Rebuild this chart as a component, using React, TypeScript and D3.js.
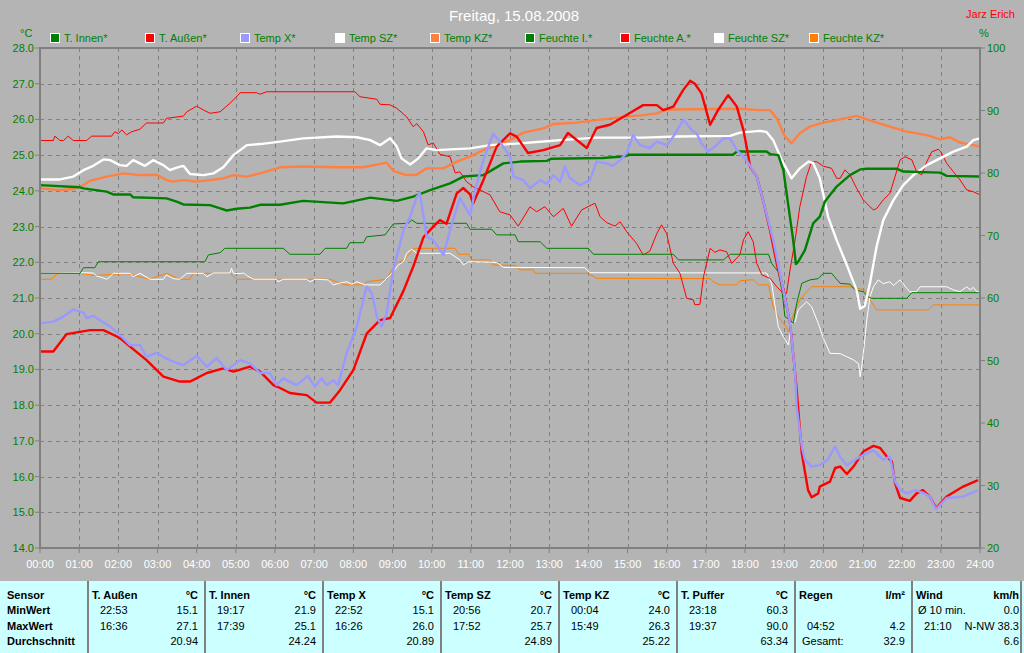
import React from 'react';
import * as d3 from 'd3';

type P = [number, number];

// ---------- chart texts ----------
const title = 'Freitag, 15.08.2008';
const author = 'Jarz Erich';
const hourTicks = d3.range(0, 25);
const tempTicks = d3.range(14, 29);
const humTicks = [20, 30, 40, 50, 60, 70, 80, 90, 100];

const legendLabels = ['T. Innen*', 'T. Außen*', 'Temp X*', 'Temp SZ*', 'Temp KZ*', 'Feuchte I.*', 'Feuchte A.*', 'Feuchte SZ*', 'Feuchte KZ*'];
const legendColors = ['#008000', '#ff0000', '#9999ff', '#ffffff', '#ff8040', '#008000', '#ff0000', '#ffffff', '#ff8000'];

// ---------- temperatures (°C, hour of day) ----------
const tAussen: P[] = [[0,19.5],[0.34,19.5],[0.68,19.99],[1.28,20.1],[1.62,20.1],[2.04,19.88],[2.30,19.64],[2.72,19.26],[3.15,18.8],[3.57,18.66],[3.83,18.66],[4.26,18.9],[4.68,19.03],[4.94,18.94],[5.36,19.08],[5.62,18.94],[5.96,18.56],[6.13,18.48],[6.38,18.34],[6.81,18.28],[7.06,18.07],[7.40,18.07],[7.66,18.42],[8.00,18.98],[8.34,20.0],[8.68,20.38],[8.94,20.44],[9.28,21.2],[9.53,21.88],[9.79,22.7],[10.04,23.0],[10.21,23.18],[10.38,23.08],[10.64,23.93],[10.81,24.08],[10.98,23.9],[11.06,23.65],[11.32,24.3],[11.66,25.24],[12.0,25.61],[12.17,25.52],[12.46,25.06],[12.85,25.14],[13.28,25.28],[13.48,25.62],[13.96,25.2],[14.21,25.76],[14.55,25.85],[15.06,26.18],[15.40,26.4],[15.75,26.4],[15.91,26.26],[16.17,26.36],[16.42,26.82],[16.6,27.08],[16.72,27.0],[16.89,26.73],[17.11,25.85],[17.31,26.26],[17.57,26.68],[17.79,26.36],[17.96,25.7],[18.04,25.24],[18.13,24.68],[18.30,24.4],[18.46,23.74],[18.64,22.9],[18.81,21.97],[18.98,21.22],[19.15,20.3],[19.28,18.9],[19.32,18.42],[19.45,16.65],[19.61,15.62],[19.70,15.42],[19.87,15.53],[19.91,15.72],[20.17,15.86],[20.30,16.24],[20.43,16.28],[20.60,16.07],[20.77,16.28],[21.02,16.7],[21.28,16.86],[21.45,16.8],[21.62,16.56],[21.75,16.42],[21.83,15.82],[21.96,15.4],[22.21,15.32],[22.38,15.53],[22.54,15.62],[22.72,15.44],[22.88,15.12],[23.15,15.44],[23.57,15.72],[23.95,15.9]];

const tempX: P[] = [[0,20.29],[0.34,20.34],[0.6,20.48],[0.85,20.68],[1.11,20.59],[1.19,20.44],[1.36,20.5],[1.53,20.38],[1.79,20.2],[2.04,19.96],[2.30,19.68],[2.55,19.68],[2.72,19.36],[2.98,19.46],[3.23,19.3],[3.49,19.18],[3.66,19.12],[4.0,19.38],[4.26,19.07],[4.51,19.32],[4.77,18.98],[5.11,19.26],[5.36,19.17],[5.62,18.9],[5.87,18.9],[6.04,18.56],[6.21,18.75],[6.55,18.56],[6.84,18.82],[7.02,18.52],[7.19,18.75],[7.32,18.56],[7.49,18.7],[7.61,18.56],[7.83,19.46],[8.09,20.2],[8.34,21.32],[8.47,21.14],[8.60,20.48],[8.72,20.2],[8.85,20.57],[9.02,21.78],[9.28,22.9],[9.45,23.28],[9.62,23.84],[9.70,23.93],[9.87,22.72],[10.04,22.62],[10.30,22.2],[10.47,22.9],[10.72,23.8],[10.98,23.32],[11.11,24.02],[11.32,24.86],[11.57,25.6],[11.74,25.38],[12.0,24.96],[12.09,24.4],[12.34,24.3],[12.51,24.07],[12.77,24.3],[12.94,24.2],[13.11,24.44],[13.28,24.25],[13.40,24.68],[13.53,24.36],[13.79,24.16],[14.04,24.3],[14.21,24.82],[14.47,24.77],[14.63,24.7],[14.81,24.86],[14.98,25.06],[15.14,25.56],[15.32,25.28],[15.57,25.2],[15.75,25.38],[16.0,25.28],[16.17,25.52],[16.43,26.0],[16.64,25.7],[16.77,25.6],[16.89,25.33],[17.06,25.1],[17.23,25.24],[17.45,25.47],[17.62,25.47],[17.79,25.14],[18.04,24.86],[18.30,24.4],[18.46,23.74],[18.72,22.62],[18.98,21.2],[19.15,20.3],[19.28,18.9],[19.32,17.96],[19.45,16.84],[19.53,16.47],[19.70,16.28],[19.91,16.32],[20.11,16.47],[20.30,16.84],[20.43,16.55],[20.60,16.32],[20.81,16.47],[21.02,16.6],[21.28,16.74],[21.53,16.47],[21.70,16.56],[21.83,15.86],[21.96,15.62],[22.13,15.53],[22.34,15.62],[22.54,15.55],[22.72,15.44],[22.87,15.1],[22.93,15.15],[23.15,15.4],[23.57,15.44],[23.95,15.62]];

const tInnen: P[] = [[0,24.16],[1.02,24.1],[1.11,24.07],[1.70,23.98],[1.87,23.9],[2.30,23.9],[2.38,23.82],[3.23,23.79],[3.49,23.7],[3.66,23.62],[4.34,23.6],[4.60,23.51],[4.77,23.45],[5.02,23.5],[5.36,23.53],[5.62,23.61],[6.13,23.61],[6.72,23.72],[7.74,23.65],[8.43,23.81],[9.11,23.72],[9.53,23.84],[9.96,24.02],[10.47,24.21],[10.81,24.4],[11.32,24.44],[11.83,24.77],[12.26,24.82],[12.94,24.84],[13.06,24.9],[14.37,24.92],[14.88,24.96],[15.06,25.01],[17.69,25.01],[17.79,25.1],[18.55,25.1],[18.64,25.03],[18.85,25.0],[18.98,24.58],[19.11,23.56],[19.23,22.62],[19.3,21.95],[19.36,22.02],[19.53,22.34],[19.74,23.09],[19.91,23.28],[20.04,23.7],[20.34,24.12],[20.68,24.44],[20.94,24.6],[21.11,24.62],[21.87,24.62],[22.04,24.54],[22.98,24.51],[23.15,24.42],[24,24.4]];

const tempSZ: P[] = [[0,24.32],[0.51,24.32],[0.85,24.4],[1.11,24.58],[1.36,24.7],[1.62,24.88],[1.79,24.86],[2.04,24.72],[2.21,24.7],[2.38,24.86],[2.55,24.77],[2.68,24.7],[2.89,24.86],[3.15,24.72],[3.32,24.58],[3.49,24.65],[3.66,24.7],[3.83,24.47],[4.17,24.44],[4.43,24.49],[4.68,24.66],[4.94,25.0],[5.28,25.28],[5.62,25.31],[6.13,25.38],[6.72,25.47],[7.57,25.52],[8.09,25.5],[8.43,25.42],[8.68,25.28],[8.94,25.47],[9.11,25.24],[9.23,24.91],[9.45,24.74],[9.66,24.91],[9.87,25.19],[10.13,25.14],[10.98,25.19],[11.49,25.28],[12.26,25.33],[12.85,25.38],[13.28,25.42],[14.21,25.49],[15.40,25.49],[16.26,25.52],[17.62,25.54],[17.87,25.63],[18.38,25.68],[18.55,25.65],[18.72,25.42],[18.94,24.86],[19.19,24.35],[19.40,24.63],[19.62,24.82],[19.74,24.78],[19.91,24.35],[20.12,23.28],[20.34,22.62],[20.60,21.92],[20.85,21.22],[20.94,20.7],[21.06,20.78],[21.19,21.41],[21.36,22.44],[21.53,23.18],[21.79,23.74],[22.04,24.16],[22.30,24.44],[22.64,24.72],[22.98,24.91],[23.32,25.1],[23.66,25.24],[23.83,25.42],[24,25.47]];

const tempKZ: P[] = [[0,24.07],[0.51,24.02],[0.85,24.05],[1.11,24.16],[1.28,24.28],[1.70,24.4],[2.13,24.49],[2.55,24.44],[2.98,24.45],[3.23,24.3],[3.40,24.26],[3.66,24.3],[4.0,24.26],[4.34,24.3],[4.68,24.35],[4.94,24.44],[5.28,24.4],[5.62,24.49],[5.96,24.6],[6.13,24.66],[6.72,24.68],[7.57,24.66],[8.26,24.66],[8.85,24.79],[9.02,24.56],[9.36,24.44],[9.62,24.45],[9.87,24.63],[10.30,24.63],[10.64,24.82],[10.98,24.96],[11.32,25.14],[11.66,25.28],[12.0,25.42],[12.34,25.63],[12.85,25.75],[13.11,25.87],[13.70,25.91],[14.21,25.98],[14.98,26.08],[15.40,26.12],[15.75,26.17],[16.0,26.28],[17.87,26.3],[18.38,26.26],[18.64,26.26],[18.81,26.03],[19.02,25.52],[19.19,25.33],[19.40,25.61],[19.66,25.8],[20.0,25.91],[20.43,26.0],[20.85,26.1],[21.28,25.94],[21.70,25.8],[22.13,25.66],[22.64,25.56],[22.98,25.44],[23.23,25.5],[23.49,25.35],[23.83,25.28],[24,25.24]];

// ---------- humidities (%, hour of day) ----------
const fAussen: P[] = [[0,85.2],[0.34,85.2],[0.38,85.9],[0.51,85.2],[0.6,85.2],[0.72,85.9],[0.85,85.2],[1.19,85.2],[1.32,85.9],[1.83,85.9],[1.91,86.6],[2.0,86.3],[2.09,86.9],[2.21,86.1],[2.34,86.6],[2.55,87.0],[2.72,88.0],[3.15,88.0],[3.23,88.75],[3.66,89.1],[3.75,89.8],[4.0,90.7],[4.17,90.1],[4.34,89.55],[4.6,89.8],[4.85,91.15],[5.02,92.2],[5.11,92.85],[5.53,92.85],[5.62,92.6],[5.79,93.0],[8.04,93.0],[8.17,92.2],[8.60,91.8],[8.68,91.0],[8.94,90.9],[9.11,90.35],[9.36,89.0],[9.53,87.4],[9.62,87.9],[9.79,86.6],[9.91,84.5],[10.04,84.8],[10.21,83.0],[10.47,82.6],[10.60,80.0],[10.72,80.2],[10.89,78.6],[11.06,77.8],[11.23,77.3],[11.49,76.5],[11.74,73.8],[12.0,73.3],[12.21,71.5],[12.51,74.6],[12.68,73.8],[12.89,74.6],[13.11,73.0],[13.36,74.35],[13.57,71.5],[13.83,74.1],[14.08,74.9],[14.17,75.15],[14.30,73.0],[14.47,72.05],[14.68,71.5],[14.81,72.2],[14.98,70.6],[15.23,68.75],[15.40,66.9],[15.57,67.5],[15.75,70.35],[15.87,71.7],[16.0,70.3],[16.17,65.55],[16.34,63.95],[16.51,59.95],[16.68,59.7],[16.72,58.9],[16.85,59.0],[16.94,63.4],[17.11,67.95],[17.23,67.3],[17.36,67.7],[17.53,67.4],[17.66,65.55],[17.87,66.9],[17.96,69.3],[18.08,70.6],[18.21,69.0],[18.30,65.55],[18.43,63.7],[18.64,63.15],[18.81,61.8],[18.94,61.0],[19.06,60.75],[19.15,64.5],[19.28,69.3],[19.40,74.6],[19.57,79.4],[19.70,81.8],[19.83,81.8],[20.0,81.1],[20.21,80.75],[20.34,79.15],[20.43,79.15],[20.55,80.5],[20.68,79.7],[20.85,77.55],[21.02,75.7],[21.19,74.6],[21.28,74.1],[21.36,74.3],[21.53,75.7],[21.70,76.75],[21.83,79.4],[21.96,82.1],[22.09,82.6],[22.26,82.1],[22.38,80.2],[22.51,79.7],[22.64,81.8],[22.77,83.4],[22.94,83.8],[23.0,83.4],[23.15,81.55],[23.32,80.2],[23.49,78.9],[23.66,77.3],[23.83,77.0],[24,76.5]];

const fInnen: P[] = [[0,63.95],[1.02,63.95],[1.11,64.85],[1.40,64.85],[1.49,65.8],[4.21,65.8],[4.30,66.9],[4.60,67.25],[4.72,67.95],[6.21,67.95],[6.38,67.0],[7.15,67.0],[7.28,67.95],[7.83,67.95],[7.91,68.85],[8.26,68.85],[8.34,69.8],[8.81,70.1],[9.02,71.85],[9.40,71.95],[9.49,72.5],[9.62,71.95],[10.89,71.95],[10.98,71.0],[11.53,71.0],[11.66,70.1],[12.13,70.1],[12.21,69.0],[12.77,69.0],[12.94,67.95],[14.0,67.95],[14.13,67.0],[16.17,67.0],[16.30,66.1],[17.45,66.1],[17.62,67.0],[18.60,67.0],[18.68,65.55],[18.85,64.2],[18.94,61.3],[19.02,57.0],[19.15,56.5],[19.23,55.95],[19.32,59.15],[19.45,62.35],[19.66,62.9],[19.87,63.1],[20.0,63.95],[20.21,63.95],[20.43,62.35],[20.68,62.2],[20.81,61.3],[21.02,61.0],[21.15,60.2],[21.23,59.95],[22.13,59.95],[22.26,60.85],[24,60.85]];

const fSZ: P[] = [[0,63.95],[1.02,64.05],[1.36,64.0],[1.45,63.5],[1.53,63.4],[1.70,63.0],[1.79,63.4],[1.87,63.95],[2.30,63.95],[2.38,63.4],[2.55,63.95],[2.81,63.0],[3.15,63.0],[3.23,63.7],[3.40,63.1],[3.57,63.0],[3.75,63.95],[4.17,63.95],[4.26,63.4],[4.43,64.0],[4.85,64.0],[4.89,64.75],[4.94,63.95],[5.11,63.9],[5.20,64.0],[5.28,63.6],[5.45,63.0],[6.04,63.0],[6.08,62.6],[6.21,63.0],[6.81,63.0],[6.89,62.6],[7.02,63.0],[7.36,62.9],[7.49,62.1],[7.66,62.4],[7.83,62.6],[7.96,62.2],[8.09,62.6],[8.30,62.1],[8.68,62.1],[8.81,62.9],[9.02,64.2],[9.15,65.3],[9.28,65.8],[9.36,67.15],[9.49,67.8],[9.62,67.15],[9.79,67.15],[10.47,67.15],[10.72,66.1],[10.81,65.3],[10.94,65.8],[11.66,65.7],[11.83,64.9],[13.91,64.85],[14.04,64.05],[18.55,64.0],[18.68,62.35],[18.77,58.6],[18.85,55.4],[18.98,53.8],[19.11,52.5],[19.19,55.95],[19.28,56.2],[19.36,58.1],[19.57,59.4],[19.70,58.6],[19.87,55.95],[20.0,53.55],[20.17,51.15],[20.43,51.1],[20.60,50.6],[20.77,50.1],[20.90,49.5],[20.94,47.4],[20.98,49.0],[21.04,52.2],[21.11,56.5],[21.19,60.2],[21.28,61.8],[21.40,62.9],[21.53,62.3],[21.70,62.6],[21.79,62.0],[21.96,62.9],[22.13,61.55],[22.21,61.0],[22.38,61.0],[22.47,61.8],[23.15,61.8],[23.32,61.3],[23.49,61.0],[23.66,61.8],[23.75,61.3],[23.83,61.7],[23.92,61.0],[24,61.0]];

const fKZ: P[] = [[0,63.0],[0.30,63.0],[0.45,63.95],[1.02,63.95],[1.40,63.6],[2.21,63.9],[2.81,63.0],[3.23,63.95],[3.57,63.0],[3.83,63.0],[3.91,63.95],[4.85,63.95],[5.02,63.0],[7.40,63.0],[7.57,62.6],[7.79,62.1],[8.26,62.1],[8.34,62.6],[8.85,63.0],[8.98,64.5],[9.11,65.65],[9.28,66.1],[9.45,67.15],[9.53,67.95],[10.60,67.95],[10.68,67.0],[10.94,67.0],[11.02,66.1],[11.49,66.1],[11.57,65.3],[12.13,65.2],[12.26,64.5],[12.60,64.5],[12.64,63.95],[14.0,63.95],[14.21,63.15],[17.11,63.1],[17.19,62.6],[17.36,62.1],[17.79,62.1],[17.87,62.75],[18.13,62.9],[18.21,62.9],[18.34,62.1],[18.60,62.1],[18.64,60.75],[18.72,58.6],[18.85,57.0],[19.02,55.7],[19.11,54.6],[19.19,56.5],[19.28,58.1],[19.40,59.7],[19.57,61.0],[19.70,61.8],[20.68,61.8],[21.06,61.3],[21.19,59.7],[21.36,58.1],[22.68,58.1],[22.81,58.9],[24,58.9]];

// ---------- statistics table ----------
const rowLabels = ['Sensor', 'MinWert', 'MaxWert', 'Durchschnitt'];
const colNames = ['T. Außen', 'T. Innen', 'Temp X', 'Temp SZ', 'Temp KZ', 'T. Puffer', 'Regen', 'Wind'];
const colUnits = ['°C', '°C', '°C', '°C', '°C', '°C', 'l/m²', 'km/h'];
const minTimes = ['22:53', '19:17', '22:52', '20:56', '00:04', '23:18', '', 'Ø 10 min.'];
const minValues = ['15.1', '21.9', '15.1', '20.7', '24.0', '60.3', '', '0.0'];
const maxTimes = ['16:36', '17:39', '16:26', '17:52', '15:49', '19:37', '04:52', '21:10'];
const maxValues = ['27.1', '25.1', '26.0', '25.7', '26.3', '90.0', '4.2', 'N-NW 38.3'];
const avgLabels = ['', '', '', '', '', '', 'Gesamt:', ''];
const avgValues = ['20.94', '24.24', '20.89', '24.89', '25.22', '63.34', '32.9', '6.6'];
const colEdges = [88, 205, 323, 441, 559, 677, 795, 912, 1021];

const FONT = '"Liberation Sans", Arial, sans-serif';
const BG = '#b4b4b4';
const GRID = '#808080';
const GREEN = '#008000';

export default function App() {
  const x = d3.scaleLinear().domain([0, 24]).range([40, 980]);
  const yT = d3.scaleLinear().domain([14, 28]).range([548, 48]);
  const yH = d3.scaleLinear().domain([20, 100]).range([548, 48]);
  const lineT = d3.line<P>().x(d => x(d[0])).y(d => yT(d[1]));
  const lineH = d3.line<P>().x(d => x(d[0])).y(d => yH(d[1]));

  const thin: { d: P[]; c: string }[] = [
    { d: fKZ, c: '#ff8000' },
    { d: fSZ, c: '#ffffff' },
    { d: fAussen, c: '#ff0000' },
    { d: fInnen, c: '#008000' },
  ];
  const thick: { d: P[]; c: string }[] = [
    { d: tempKZ, c: '#ff8040' },
    { d: tempSZ, c: '#ffffff' },
    { d: tInnen, c: '#008000' },
    { d: tAussen, c: '#ff0000' },
    { d: tempX, c: '#9999ff' },
  ];
  const legendX = [50, 145, 240, 335, 430, 525, 620, 714, 809];
  const rowY = [599, 614, 630, 645];

  return (
    <svg width={1024} height={653} style={{ position: 'absolute', left: 0, top: 0, display: 'block' }} fontFamily={FONT}>
      <rect x={0} y={0} width={1024} height={653} fill={BG} />
      <text x={514} y={21} fill="#ffffff" fontSize={15} textAnchor="middle">{title}</text>
      <text x={1015} y={18} fill="#ff0000" fontSize={11} textAnchor="end">{author}</text>
      <text x={20} y={37} fill={GREEN} fontSize={11}>°C</text>
      <text x={979} y={37} fill={GREEN} fontSize={11}>%</text>

      {legendLabels.map((l, i) => (
        <g key={l}>
          <rect x={legendX[i] + 0.5} y={33.5} width={9} height={9} fill={legendColors[i]} stroke="#ffffff" strokeWidth={1} />
          <text x={legendX[i] + 14} y={42} fill={GREEN} fontSize={11}>{l}</text>
        </g>
      ))}

      {/* grid */}
      {tempTicks.slice(1, -1).map(t => (
        <line key={'h' + t} x1={40} x2={980} y1={Math.round(yT(t)) + 0.5} y2={Math.round(yT(t)) + 0.5} stroke={GRID} strokeDasharray="4,4" />
      ))}
      {hourTicks.slice(1, -1).map(h => (
        <line key={'v' + h} x1={Math.round(x(h)) + 0.5} x2={Math.round(x(h)) + 0.5} y1={48} y2={548} stroke={GRID} strokeDasharray="4,4" />
      ))}

      {/* lines */}
      {thin.map((s, i) => (
        <path key={'t' + i} d={lineH(s.d) || ''} fill="none" stroke={s.c} strokeWidth={1} />
      ))}
      {thick.map((s, i) => (
        <path key={'k' + i} d={lineT(s.d) || ''} fill="none" stroke={s.c} strokeWidth={2.4} strokeLinejoin="round" />
      ))}

      {/* frame */}
      <rect x={40} y={48} width={940} height={500} fill="none" stroke={GRID} strokeWidth={2} />

      {/* left axis */}
      {tempTicks.map(t => (
        <g key={'l' + t}>
          <line x1={35} x2={40} y1={yT(t)} y2={yT(t)} stroke={GRID} />
          <text x={34} y={yT(t) + 4} fill={GREEN} fontSize={11} textAnchor="end">{t.toFixed(1)}</text>
        </g>
      ))}
      {/* right axis */}
      {humTicks.map(h => (
        <g key={'r' + h}>
          <line x1={980} x2={985} y1={yH(h)} y2={yH(h)} stroke={GRID} />
          <text x={987} y={yH(h) + 4} fill={GREEN} fontSize={11}>{h}</text>
        </g>
      ))}
      {/* x axis */}
      {hourTicks.map(h => (
        <g key={'x' + h}>
          <line x1={x(h)} x2={x(h)} y1={548} y2={553} stroke={GRID} />
          <text x={x(h)} y={568} fill="#ffffff" fontSize={11} textAnchor="middle">{String(h).padStart(2, '0') + ':00'}</text>
        </g>
      ))}

      {/* table */}
      <rect x={0} y={581} width={1024} height={72} fill="#ccffff" />
      {colEdges.map(e => (
        <line key={'e' + e} x1={e} x2={e} y1={581} y2={653} stroke={GRID} strokeWidth={2} />
      ))}
      {rowLabels.map((r, i) => (
        <text key={r} x={7} y={rowY[i]} fontSize={11} fontWeight="bold" fill="#000">{r}</text>
      ))}
      {colNames.map((n, i) => {
        const l = colEdges[i];
        const r = colEdges[i + 1];
        const right = r - (i === 7 ? 2 : 7);
        return (
          <g key={n} fontSize={11} fill="#000">
            <text x={l + 4} y={rowY[0]} fontWeight="bold">{n}</text>
            <text x={right} y={rowY[0]} fontWeight="bold" textAnchor="end">{colUnits[i]}</text>
            <text x={l + (i === 7 ? 6 : 12)} y={rowY[1]}>{minTimes[i]}</text>
            <text x={right} y={rowY[1]} textAnchor="end">{minValues[i]}</text>
            <text x={l + 12} y={rowY[2]}>{maxTimes[i]}</text>
            <text x={right} y={rowY[2]} textAnchor="end">{maxValues[i]}</text>
            <text x={l + 7} y={rowY[3]}>{avgLabels[i]}</text>
            <text x={right} y={rowY[3]} textAnchor="end">{avgValues[i]}</text>
          </g>
        );
      })}
    </svg>
  );
}
